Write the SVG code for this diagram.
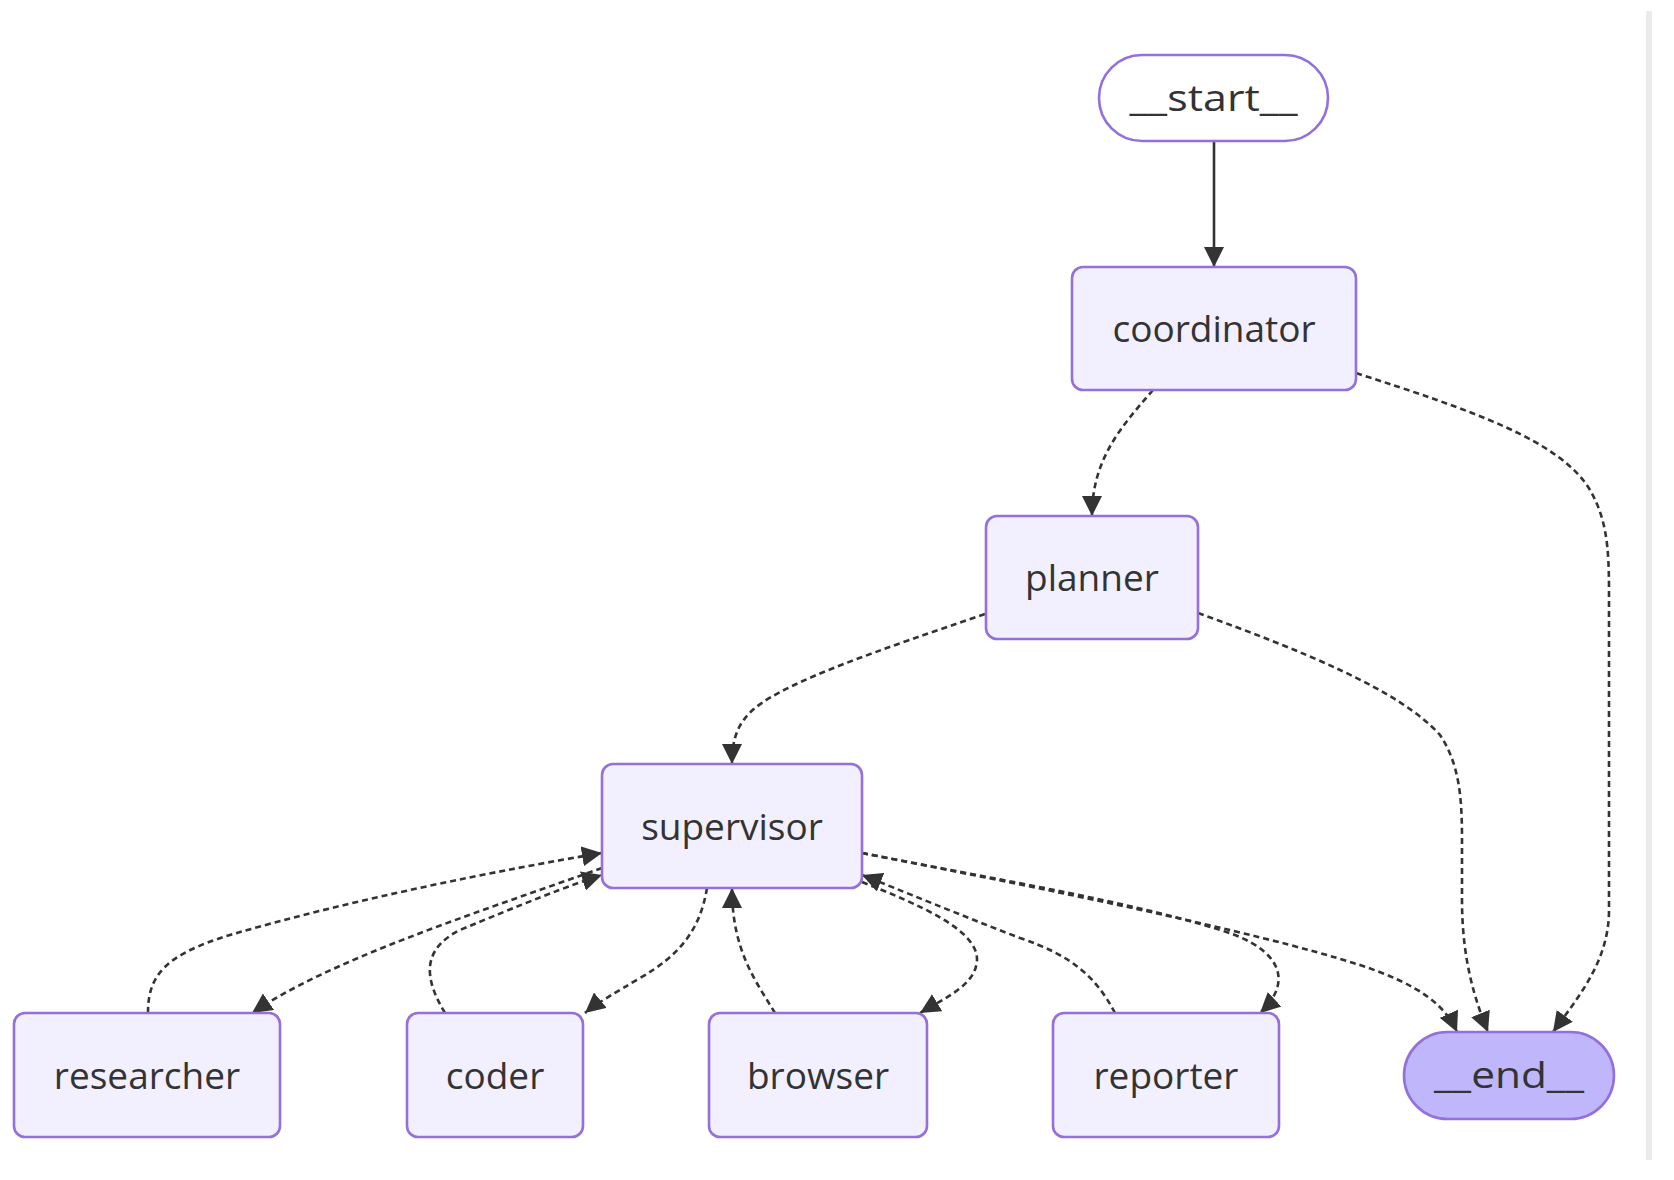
<svg xmlns="http://www.w3.org/2000/svg" width="1674" height="1180" viewBox="0 0 1674 1180">
<style>
.node rect{fill:#f2f0ff;stroke:#9370DB;stroke-width:2.6}
.node.first rect{fill:#ffffff}
.node.last rect{fill:#bfb6fc}
.node text{font-family:"Open Sans","Noto Sans","DejaVu Sans",sans-serif;font-size:37px;fill:#333333;text-anchor:middle}
.edge{fill:none;stroke:#333333;stroke-width:2.6}
.dash{stroke-dasharray:6 4}
</style>
<defs>
<marker id="arrow" viewBox="0 0 10 10" refX="10" refY="5" markerWidth="20" markerHeight="20" markerUnits="userSpaceOnUse" orient="auto">
<path d="M0,0 L10,5 L0,10 z" fill="#333333"/>
</marker>
</defs>
<rect x="0" y="0" width="1674" height="1180" fill="#ffffff"/>
<rect x="1646" y="11" width="6" height="1149" fill="#ebebeb"/>
<g id="connectors">
<path class="edge" d="M1214,141 L1214,267" marker-end="url(#arrow)"/>
<path class="edge dash" d="M1153,390 C1120,428 1092,460 1092,516" marker-end="url(#arrow)"/>
<path class="edge dash" d="M1356,373 C1470,410 1560,440 1590,490 C1606,518 1609,545 1609,590 L1609,910 C1609,960 1580,995 1553,1032" marker-end="url(#arrow)"/>
<path class="edge dash" d="M985,614 C880,650 790,680 755,708 C737,723 732,740 732,764" marker-end="url(#arrow)"/>
<path class="edge dash" d="M1198,613 C1300,650 1400,690 1440,735 C1460,765 1462,800 1462,840 L1462,900 C1462,960 1475,1000 1488,1032" marker-end="url(#arrow)"/>
<path class="edge dash" d="M602,868 C470,915 330,960 252,1013" marker-end="url(#arrow)"/>
<path class="edge dash" d="M148,1013 C148,975 165,955 230,935 C350,900 500,870 602,853" marker-end="url(#arrow)"/>
<path class="edge dash" d="M445,1013 C425,980 420,950 460,930 C520,905 570,885 602,875" marker-end="url(#arrow)"/>
<path class="edge dash" d="M707,888 C700,930 680,955 640,978 C615,993 597,1003 585,1013" marker-end="url(#arrow)"/>
<path class="edge dash" d="M775,1013 C755,980 732,950 732,888" marker-end="url(#arrow)"/>
<path class="edge dash" d="M862,882 C920,905 978,930 977,960 C976,985 945,998 920,1013" marker-end="url(#arrow)"/>
<path class="edge dash" d="M1115,1013 C1095,975 1070,955 1020,938 C960,915 900,890 862,875" marker-end="url(#arrow)"/>
<path class="edge dash" d="M862,853 C1000,880 1150,905 1235,935 C1285,955 1290,985 1260,1013" marker-end="url(#arrow)"/>
<path class="edge dash" d="M862,853 C1050,890 1250,930 1360,965 C1420,985 1445,1005 1457,1032" marker-end="url(#arrow)"/>
</g>
<g id="node-start" class="node first">
<rect x="1099" y="55" width="229" height="86" rx="43" ry="43"/>
<text x="1213.5" y="111" textLength="168" lengthAdjust="spacingAndGlyphs">__start__</text>
</g>
<g id="node-coordinator" class="node">
<rect x="1072" y="267" width="284" height="123" rx="11" ry="11"/>
<text x="1214" y="342">coordinator</text>
</g>
<g id="node-planner" class="node">
<rect x="986" y="516" width="212" height="123" rx="11" ry="11"/>
<text x="1092" y="591">planner</text>
</g>
<g id="node-supervisor" class="node">
<rect x="602" y="764" width="260" height="124" rx="11" ry="11"/>
<text x="732" y="840">supervisor</text>
</g>
<g id="node-researcher" class="node">
<rect x="14" y="1013" width="266" height="124" rx="11" ry="11"/>
<text x="147" y="1089">researcher</text>
</g>
<g id="node-coder" class="node">
<rect x="407" y="1013" width="176" height="124" rx="11" ry="11"/>
<text x="495" y="1089">coder</text>
</g>
<g id="node-browser" class="node">
<rect x="709" y="1013" width="218" height="124" rx="11" ry="11"/>
<text x="818" y="1089">browser</text>
</g>
<g id="node-reporter" class="node">
<rect x="1053" y="1013" width="226" height="124" rx="11" ry="11"/>
<text x="1166" y="1089">reporter</text>
</g>
<g id="node-end" class="node last">
<rect x="1404" y="1032" width="210" height="87" rx="43.5" ry="43.5"/>
<text x="1509" y="1088" textLength="150" lengthAdjust="spacingAndGlyphs">__end__</text>
</g>
</svg>
